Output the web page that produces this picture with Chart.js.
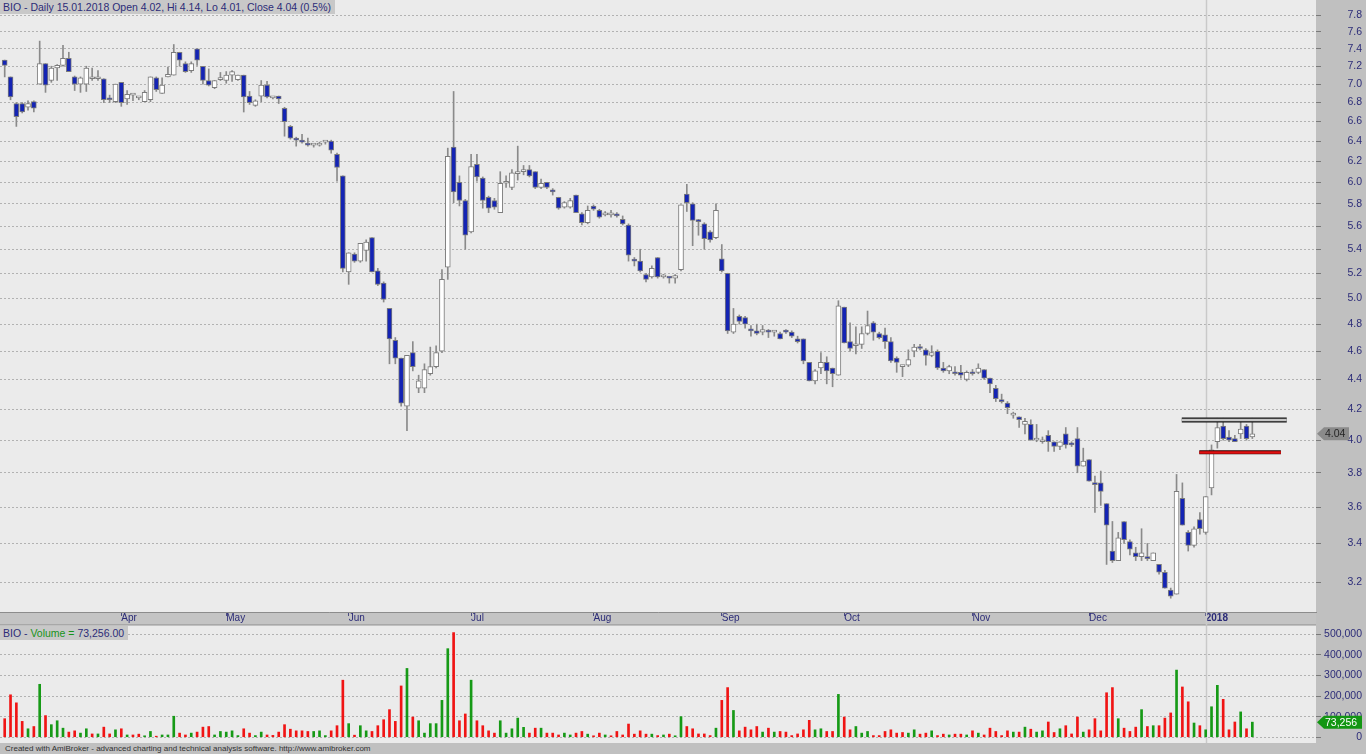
<!DOCTYPE html>
<html>
<head>
<meta charset="utf-8">
<script src="https://cdn.jsdelivr.net/npm/chart.js@4.4.1/dist/chart.umd.min.js"></script>
<style>
html,body{margin:0;padding:0;background:#c0c0c0;overflow:hidden}
#wrap{position:relative;width:1366px;height:754px;font-family:"Liberation Sans",Arial,sans-serif}
canvas{position:absolute;left:0}
#cPrice{top:0}
#cVol{top:625px}
.hdr{position:absolute;left:0;background:#c8c8c8;color:#2c2c78;font-size:10.5px;line-height:14px;padding:0 4px 0 3px;white-space:nowrap}
#hPrice{top:0}
#hVol{top:626px}
.grn{color:#17931a}
#foot{position:absolute;left:5px;top:743px;font-size:8px;line-height:11px;color:#303030;white-space:nowrap}
</style>
</head>
<body>
<div id="wrap">
  <canvas id="cPrice" width="1366" height="625"></canvas>
  <canvas id="cVol" width="1366" height="118"></canvas>
  <div class="hdr" id="hPrice">BIO - Daily 15.01.2018 Open 4.02, Hi 4.14, Lo 4.01, Close 4.04 (0.5%)</div>
  <div class="hdr" id="hVol">BIO - <span class="grn">Volume =</span> 73,256.00</div>
  <div id="foot">Created with AmiBroker - advanced charting and technical analysis software. http://www.amibroker.com</div>
</div>
<script>
// daily bars, mid March 2017 .. 15.01.2018
const opens = [
  7.27,7.08,6.79,6.79,6.75,6.81,7.00,7.23,7.04,7.18,
  7.21,7.29,7.08,7.00,7.00,7.06,7.06,7.06,6.85,6.81,
  7.02,6.84,6.88,6.85,6.81,6.83,7.07,6.90,7.08,7.10,
  7.36,7.23,7.15,7.40,7.20,7.04,6.96,7.05,7.04,7.10,
  7.05,7.10,6.87,6.77,6.87,6.99,6.85,6.87,6.74,6.55,
  6.42,6.40,6.38,6.36,6.36,6.39,6.40,6.27,6.06,5.21,
  5.36,5.30,5.39,5.50,5.22,5.12,4.92,4.68,4.55,4.22,
  4.59,4.34,4.34,4.44,4.49,4.60,5.25,6.34,6.00,5.83,
  5.55,6.17,6.04,5.86,5.83,5.72,5.99,5.95,6.08,6.10,
  6.12,6.10,5.95,6.00,5.92,5.86,5.77,5.77,5.88,5.71,
  5.63,5.78,5.74,5.70,5.70,5.70,5.66,5.61,5.31,5.30,
  5.19,5.17,5.33,5.17,5.17,5.16,5.23,5.89,5.80,5.65,
  5.62,5.55,5.50,5.32,5.20,4.74,4.86,4.85,4.76,4.75,
  4.74,4.75,4.74,4.73,4.75,4.74,4.69,4.69,4.52,4.39,
  4.48,4.52,4.48,4.43,4.93,4.67,4.64,4.65,4.73,4.81,
  4.73,4.72,4.67,4.55,4.49,4.50,4.60,4.63,4.61,4.57,
  4.60,4.48,4.46,4.45,4.45,4.40,4.45,4.45,4.47,4.41,
  4.34,4.26,4.24,4.16,4.15,4.10,4.10,4.00,3.99,4.03,
  3.99,3.96,4.04,3.98,4.01,3.84,3.88,3.74,3.74,3.62,
  3.36,3.31,3.52,3.41,3.35,3.33,3.33,3.31,3.29,3.25,
  3.16,3.14,3.65,3.46,3.39,3.53,3.46,3.71,3.99,4.09,
  4.02,4.01,4.04,4.09,4.02
];
const highs = [
  7.27,7.08,6.80,6.80,6.82,6.82,7.49,7.23,7.20,7.22,
  7.44,7.36,7.09,7.08,7.20,7.18,7.15,7.06,6.88,7.00,
  7.02,6.93,6.89,6.86,6.93,7.08,7.08,7.07,7.19,7.45,
  7.36,7.25,7.25,7.40,7.20,7.17,7.04,7.13,7.14,7.15,
  7.10,7.10,6.92,6.83,7.04,7.03,6.86,6.87,6.75,6.56,
  6.44,6.47,6.43,6.37,6.39,6.39,6.41,6.28,6.06,5.37,
  5.37,5.45,5.48,5.50,5.24,5.13,4.92,4.70,4.55,4.57,
  4.67,4.43,4.51,4.63,4.64,5.23,6.33,6.92,6.06,5.84,
  6.27,6.27,6.05,5.87,5.85,6.10,6.06,6.12,6.35,6.16,
  6.16,6.10,6.03,6.00,5.94,5.86,5.82,5.85,5.88,5.72,
  5.78,5.79,5.75,5.73,5.74,5.72,5.69,5.62,5.33,5.40,
  5.20,5.26,5.33,5.19,5.17,5.19,5.79,5.98,5.81,5.66,
  5.63,5.56,5.80,5.44,5.20,4.92,4.87,4.86,4.79,4.80,
  4.79,4.76,4.75,4.74,4.76,4.75,4.71,4.69,4.52,4.47,
  4.59,4.56,4.48,4.98,4.93,4.81,4.78,4.78,4.90,4.82,
  4.74,4.77,4.70,4.56,4.50,4.61,4.65,4.65,4.62,4.64,
  4.61,4.52,4.50,4.49,4.50,4.46,4.47,4.51,4.47,4.41,
  4.36,4.30,4.25,4.18,4.15,4.14,4.13,4.10,4.02,4.06,
  3.99,3.99,4.08,3.99,4.08,3.95,3.88,3.78,3.81,3.62,
  3.52,3.46,3.52,3.42,3.38,3.48,3.40,3.35,3.29,3.26,
  3.17,3.79,3.74,3.47,3.49,3.57,3.66,3.97,4.14,4.14,
  4.06,4.03,4.13,4.10,4.14
];
const lows = [
  7.08,6.83,6.55,6.69,6.72,6.70,7.00,6.91,7.02,7.04,
  7.20,7.14,6.93,6.91,6.92,7.04,7.04,6.80,6.80,6.80,
  6.76,6.78,6.82,6.83,6.81,6.81,6.92,6.90,7.08,7.10,
  7.20,7.13,7.13,7.21,7.00,6.98,6.95,7.04,7.01,7.03,
  7.04,6.70,6.78,6.76,6.81,6.85,6.84,6.79,6.45,6.42,
  6.35,6.38,6.35,6.34,6.35,6.37,6.28,6.01,5.21,5.11,
  5.29,5.29,5.30,5.21,5.10,4.97,4.51,4.51,4.22,4.06,
  4.46,4.31,4.31,4.43,4.48,4.59,5.15,5.81,5.78,5.40,
  5.54,6.01,5.76,5.72,5.75,5.72,5.95,5.93,6.02,6.07,
  6.05,5.94,5.94,5.94,5.88,5.75,5.76,5.76,5.72,5.61,
  5.62,5.74,5.67,5.69,5.68,5.68,5.61,5.30,5.26,5.21,
  5.13,5.16,5.16,5.16,5.12,5.12,5.22,5.73,5.43,5.52,
  5.40,5.46,5.49,5.21,4.73,4.73,4.80,4.77,4.71,4.72,
  4.72,4.70,4.71,4.69,4.73,4.70,4.66,4.51,4.39,4.37,
  4.44,4.37,4.35,4.43,4.66,4.60,4.58,4.62,4.72,4.68,
  4.69,4.62,4.52,4.45,4.42,4.49,4.56,4.61,4.50,4.56,
  4.47,4.45,4.44,4.43,4.41,4.39,4.43,4.44,4.40,4.31,
  4.25,4.24,4.17,4.14,4.08,4.04,4.00,3.99,3.98,3.93,
  3.93,3.94,3.95,3.96,3.80,3.84,3.75,3.57,3.61,3.29,
  3.30,3.31,3.40,3.34,3.31,3.31,3.31,3.31,3.24,3.17,
  3.12,3.14,3.50,3.36,3.38,3.45,3.45,3.67,3.95,4.00,
  3.99,3.99,4.01,4.00,4.01
];
const closes = [
  7.21,6.86,6.65,6.70,6.79,6.74,7.23,6.99,7.18,7.21,
  7.29,7.14,7.00,7.07,7.18,7.06,7.06,6.83,6.83,7.00,
  6.80,6.89,6.88,6.85,6.91,7.08,6.94,6.99,7.11,7.36,
  7.27,7.14,7.23,7.27,7.04,6.99,7.04,7.05,7.10,7.14,
  7.10,6.86,6.80,6.82,6.99,6.86,6.85,6.84,6.60,6.43,
  6.41,6.39,6.36,6.36,6.36,6.39,6.31,6.14,5.24,5.37,
  5.30,5.45,5.46,5.21,5.11,4.99,4.69,4.55,4.24,4.57,
  4.49,4.39,4.47,4.49,4.59,5.15,6.25,5.91,5.83,5.52,
  6.15,6.05,5.83,5.76,5.77,5.99,6.00,6.09,6.10,6.12,
  6.06,5.95,5.99,5.95,5.91,5.76,5.81,5.83,5.72,5.63,
  5.74,5.75,5.68,5.71,5.70,5.69,5.62,5.35,5.30,5.22,
  5.15,5.24,5.17,5.18,5.16,5.18,5.79,5.81,5.65,5.64,
  5.49,5.48,5.74,5.22,4.75,4.80,4.82,4.80,4.75,4.73,
  4.76,4.74,4.74,4.69,4.74,4.71,4.67,4.53,4.39,4.46,
  4.52,4.46,4.44,4.94,4.66,4.62,4.65,4.73,4.79,4.74,
  4.70,4.67,4.53,4.52,4.49,4.54,4.63,4.62,4.57,4.59,
  4.48,4.46,4.49,4.44,4.43,4.45,4.44,4.48,4.41,4.37,
  4.27,4.25,4.21,4.17,4.13,4.12,4.00,4.00,4.00,3.99,
  3.96,3.99,3.97,3.97,3.84,3.87,3.75,3.73,3.69,3.50,
  3.31,3.43,3.42,3.37,3.33,3.35,3.32,3.35,3.25,3.17,
  3.13,3.69,3.50,3.39,3.48,3.48,3.66,3.94,4.08,4.01,
  4.00,3.99,4.07,4.01,4.04
];
const volumes = [
  90000,206000,167000,77000,41000,52000,257000,105000,61000,80000,
  44000,25000,31000,20000,41000,16000,16000,49000,16000,36000,
  41000,11000,11000,15000,7000,28000,5000,11000,11000,102000,
  20000,11000,20000,25000,49000,52000,11000,28000,25000,31000,
  8000,41000,20000,8000,25000,11000,9000,25000,61000,39000,
  31000,31000,28000,28000,31000,8000,31000,56000,277000,66000,
  10000,56000,31000,28000,56000,85000,134000,77000,249000,334000,
  98000,80000,20000,66000,66000,179000,430000,508000,80000,113000,
  277000,80000,56000,31000,20000,80000,20000,41000,93000,48000,
  20000,44000,44000,20000,20000,11000,20000,11000,20000,28000,
  15000,7000,20000,11000,7000,28000,11000,64000,15000,31000,
  15000,15000,8000,11000,15000,7000,100000,52000,41000,16000,
  16000,8000,44000,179000,241000,130000,31000,49000,36000,52000,
  25000,44000,25000,28000,25000,8000,16000,36000,82000,36000,
  41000,28000,28000,208000,98000,36000,52000,20000,28000,8000,
  8000,28000,36000,20000,23000,20000,36000,15000,20000,31000,
  8000,15000,11000,15000,15000,11000,31000,20000,11000,44000,
  28000,8000,31000,25000,25000,49000,39000,25000,31000,74000,
  23000,41000,56000,16000,98000,25000,36000,90000,31000,216000,
  241000,90000,44000,28000,49000,134000,52000,56000,56000,93000,
  118000,326000,244000,172000,69000,56000,36000,148000,252000,184000,
  36000,74000,123000,41000,73256
];

// month starts (bar index) and their labels
const monthIdx = [20, 38, 59, 80, 101, 123, 144, 166, 186, 206];
const monthNames = ['Apr', 'May', 'Jun', 'Jul', 'Aug', 'Sep', 'Oct', 'Nov', 'Dec', '2018'];
const priceTicks = [3.2,3.4,3.6,3.8,4.0,4.2,4.4,4.6,4.8,5.0,5.2,5.4,5.6,5.8,6.0,6.2,6.4,6.6,6.8,7.0,7.2,7.4,7.6,7.8];
const volTicks = [0, 100000, 200000, 300000, 400000, 500000];

// hand drawn study lines (bar index, price)
const resistX = [201.9, 219.9];
const resistY = [4.128, 4.128];
const supportX = [204.9, 218.9];
const supportY = [3.925, 3.925];

const NAVY = '#2c2c78';
const X_MIN = -0.806, X_MAX = 224.92;
Chart.defaults.font.family = '"Liberation Sans", Arial, sans-serif';

const N = opens.length;
const idx = opens.map((_, i) => i);
const upBar = i => closes[i] > opens[i] || (closes[i] === opens[i] && i > 0 && closes[i] >= closes[i - 1]);

function fmtVol(v){ return String(v).replace(/\B(?=(\d{3})+(?!\d))/g, ','); }

// keep Chart.js from padding the plot area for label overhang
function noPad(s){ s.paddingTop = 0; s.paddingBottom = 0; s.paddingLeft = 0; s.paddingRight = 0; }

function xAxis(show){
  return {
    type: 'linear', min: X_MIN, max: X_MAX, offset: false, bounds: 'data',
    display: show,
    afterBuildTicks: s => { s.ticks = monthIdx.map(v => ({value: v})); },
    afterFit: s => { s.height = show ? 13 : 0; noPad(s); },
    grid: {offset: false, drawOnChartArea: false, drawTicks: true, tickLength: 4, tickColor: '#4a4a80', color: '#4a4a80'},
    border: {display: true, color: '#8c8c8c'},
    ticks: {
      autoSkip: false, maxRotation: 0, align: 'start', padding: -4, color: NAVY,
      callback: (v, i) => monthNames[i],
      font: c => ({size: 10, weight: (c.tick && c.index === monthIdx.length - 1) ? 'bold' : 'normal'})
    }
  };
}

const panelBg = {
  id: 'panelBg',
  beforeDraw(chart){
    const {ctx, chartArea: a, width, height} = chart;
    ctx.save();
    ctx.fillStyle = '#c0c0c0';
    ctx.fillRect(0, 0, width, height);
    ctx.fillStyle = '#ebebeb';
    ctx.fillRect(a.left, a.top, a.right - a.left, a.bottom - a.top);
    if (chart.canvas.id === 'cPrice') {
      ctx.fillStyle = '#c4c4c4';
      ctx.fillRect(a.left, a.bottom, a.right - a.left, height - a.bottom);
      ctx.fillStyle = '#a8a8a8';
      ctx.fillRect(a.left, height - 1, a.right - a.left, 1);
    }
    ctx.restore();
  },
  beforeDatasetsDraw(chart){
    const {ctx, chartArea: a} = chart;
    const x = Math.round(chart.scales.x.getPixelForValue(monthIdx[monthIdx.length - 1])) + 0.5;
    ctx.save();
    ctx.strokeStyle = '#c9c9c9';
    ctx.lineWidth = 1.5;
    ctx.beginPath();
    ctx.moveTo(x, a.top);
    ctx.lineTo(x, chart.canvas.id === 'cPrice' ? chart.height : a.bottom);
    ctx.stroke();
    ctx.restore();
  }
};

function drawTag(chart, value, text, fill, txtColor, w){
  const {ctx, chartArea: a} = chart;
  const y = chart.scales.y.getPixelForValue(value);
  const x0 = a.right + 1, h = 6.5;
  ctx.save();
  ctx.fillStyle = fill;
  ctx.beginPath();
  ctx.moveTo(x0, y);
  ctx.lineTo(x0 + 7, y - h);
  ctx.lineTo(x0 + w, y - h);
  ctx.lineTo(x0 + w, y + h);
  ctx.lineTo(x0 + 7, y + h);
  ctx.closePath();
  ctx.fill();
  ctx.fillStyle = txtColor;
  ctx.font = '10.5px "Liberation Sans", Arial, sans-serif';
  ctx.textBaseline = 'middle';
  ctx.fillText(text, x0 + 8, y + 0.5);
  ctx.restore();
}

new Chart(document.getElementById('cPrice'), {
  data: {
    datasets: [
      {
        type: 'bar', order: 2, grouped: false,
        data: idx.map(i => ({x: i, y: [lows[i], highs[i]]})),
        backgroundColor: '#8a8a8a', borderWidth: 0, barThickness: 1, minBarLength: 1
      },
      {
        type: 'bar', order: 1, grouped: false,
        data: idx.map(i => ({x: i, y: [opens[i], closes[i]]})),
        backgroundColor: idx.map(i => closes[i] < opens[i] ? '#1424b4' : '#ffffff'),
        borderColor: '#7c7c7c', borderWidth: 1, borderSkipped: false,
        barThickness: 5, minBarLength: 2
      },
      {
        type: 'line', order: 0,
        data: resistX.map((x, i) => ({x, y: resistY[i]})),
        borderColor: '#101010', borderWidth: 5, pointRadius: 0, borderCapStyle: 'butt'
      },
      {
        type: 'line', order: -1,
        data: resistX.map((x, i) => ({x, y: resistY[i]})),
        borderColor: '#c6c6c6', borderWidth: 2.5, pointRadius: 0, borderCapStyle: 'butt'
      },
      {
        type: 'line', order: 0,
        data: supportX.map((x, i) => ({x, y: supportY[i]})),
        borderColor: '#300000', borderWidth: 4, pointRadius: 0, borderCapStyle: 'butt'
      },
      {
        type: 'line', order: -1,
        data: supportX.map((x, i) => ({x, y: supportY[i] * 0.9995})),
        borderColor: '#e01010', borderWidth: 2.5, pointRadius: 0, borderCapStyle: 'butt'
      }
    ]
  },
  options: {
    responsive: false, animation: false, devicePixelRatio: 1, events: [],
    layout: {padding: {right: 4}},
    plugins: {legend: {display: false}, tooltip: {enabled: false}},
    scales: {
      x: xAxis(true),
      y: {
        type: 'logarithmic', position: 'right', min: 3.053, max: 7.99, bounds: 'data',
        afterBuildTicks: s => { s.ticks = priceTicks.map(v => ({value: v})); },
        afterFit: s => { s.width = 46; noPad(s); },
        grid: {color: '#b2b2b2', tickLength: 5, tickColor: '#7a7a7a'},
        border: {display: false, dash: [2, 2]},
        ticks: {color: NAVY, font: {size: 10.5}, crossAlign: 'far', padding: 3, callback: v => Number(v).toFixed(1)}
      }
    }
  },
  plugins: [panelBg, {
    id: 'lastTag',
    afterDraw(chart){ drawTag(chart, closes[N - 1], closes[N - 1].toFixed(2), '#8a8a8a', '#262626', 32); }
  }]
});

new Chart(document.getElementById('cVol'), {
  type: 'bar',
  data: {
    datasets: [{
      data: idx.map(i => ({x: i, y: volumes[i]})),
      backgroundColor: idx.map(i => upBar(i) ? '#169a16' : '#f01414'),
      borderWidth: 0, barThickness: 2, grouped: false
    }]
  },
  options: {
    responsive: false, animation: false, devicePixelRatio: 1, events: [],
    layout: {padding: {top: 1, right: 4}},
    plugins: {legend: {display: false}, tooltip: {enabled: false}},
    scales: {
      x: xAxis(false),
      y: {
        type: 'linear', position: 'right', min: -28000, max: 540000, bounds: 'data',
        afterBuildTicks: s => { s.ticks = volTicks.map(v => ({value: v})); },
        afterFit: s => { s.width = 46; noPad(s); },
        grid: {color: '#b2b2b2', tickLength: 5, tickColor: '#7a7a7a'},
        border: {display: false, dash: [2, 2]},
        ticks: {color: NAVY, font: {size: 10.5}, crossAlign: 'far', padding: 3, callback: v => fmtVol(v)}
      }
    }
  },
  plugins: [panelBg, {
    id: 'volTag',
    afterDraw(chart){ drawTag(chart, volumes[N - 1], fmtVol(volumes[N - 1]), '#129612', '#ffffff', 45); }
  }]
});
</script>
</body>
</html>
